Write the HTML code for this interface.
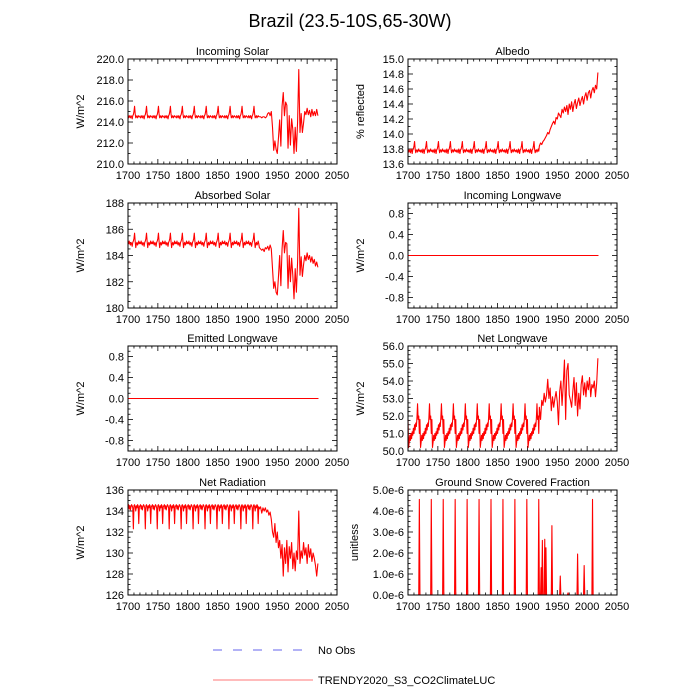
<!DOCTYPE html>
<html><head><meta charset="utf-8"><style>
html,body{margin:0;padding:0;background:#fff}
svg{display:block;font-family:"Liberation Sans",sans-serif}
</style></head><body>
<svg id="c" width="700" height="700" viewBox="0 0 700 700">
<text x="350" y="27" text-anchor="middle" font-size="18">Brazil (23.5-10S,65-30W)</text>
<g>
<line x1="213" y1="650" x2="308" y2="650" stroke="#6666ee" stroke-dasharray="9,11"/>
<text x="318" y="654" font-size="11">No Obs</text>
<line x1="213" y1="680" x2="313" y2="680" stroke="#f77"/>
<text x="318" y="684" font-size="11">TRENDY2020_S3_CO2ClimateLUC</text>
</g>
</svg>
<script>
// 20-year spin-up cycle values (1700-1919, repeating in the data)
const cycIS=[214.5,214.4,214.6,214.5,214.4,214.6,214.5,214.3,214.6,214.7,215.0,215.5,214.8,214.4,214.5,214.6,214.4,214.5,214.6,214.5];
const cycAS=[185.0,184.9,185.1,184.9,184.8,185.0,184.9,184.7,185.0,185.1,185.3,185.7,185.1,184.6,184.9,185.0,184.8,184.9,185.1,184.9];
const cycAL=[13.78,13.76,13.79,13.77,13.75,13.80,13.78,13.74,13.79,13.80,13.84,13.90,13.80,13.75,13.78,13.79,13.76,13.78,13.80,13.77];
const cycNL=[51.8,50.2,50.5,50.9,50.6,51.0,50.7,51.1,50.9,51.3,51.0,51.5,51.2,51.6,51.4,51.9,52.7,51.8,52.0,51.0];
const cycNR=[134.5,134.6,134.2,134.5,134.1,134.4,134.6,134.5,134.3,132.3,134.5,134.6,134.4,134.0,134.5,134.3,134.6,134.5,132.8,134.4];
// post-1920 values every 2 years
const postYears=[1920,1922,1924,1926,1928,1930,1932,1934,1936,1938,1940,1942,1944,1946,1948,1950,1952,1954,1956,1958,1960,1962,1964,1966,1968,1970,1972,1974,1976,1978,1980,1982,1984,1986,1988,1990,1992,1994,1996,1998,2000,2002,2004,2006,2008,2010,2012,2014,2016,2018];
const postIS=[214.5,214.5,214.4,214.5,214.5,214.4,214.5,214.8,214.9,214.6,215.0,213.5,211.3,212.2,211.4,211.0,212.5,214.2,211.7,215.5,216.8,214.6,215.9,215.6,211.5,214.6,211.8,214.3,213.3,211.0,213.5,211.2,214.0,219.0,213.0,214.8,213.0,213.9,215.0,214.7,215.3,214.7,215.1,214.5,215.2,214.6,215.0,214.6,215.2,214.6];
const postAS=[184.6,184.5,184.4,184.5,184.3,184.6,184.5,184.7,184.4,184.8,184.5,183.0,181.5,182.0,181.2,181.0,182.4,184.0,181.7,184.5,185.9,184.2,185.0,184.9,181.5,184.0,182.0,183.8,182.5,180.7,183.0,181.2,183.5,187.6,182.5,183.9,182.4,183.3,184.0,183.6,184.2,183.7,184.0,183.5,183.9,183.4,183.7,183.2,183.5,183.1];
const postAL=[13.84,13.88,13.86,13.90,13.92,13.95,13.98,14.02,14.00,14.06,14.10,14.14,14.17,14.13,14.22,14.20,14.28,14.25,14.22,14.33,14.28,14.36,14.30,14.38,14.26,14.40,14.33,14.43,14.30,14.40,14.46,14.34,14.42,14.48,14.38,14.45,14.50,14.40,14.50,14.55,14.45,14.55,14.58,14.48,14.58,14.62,14.55,14.65,14.60,14.82];
const postNL=[52.5,51.8,52.9,52.6,53.3,52.8,53.2,54.1,53.0,53.6,52.3,53.1,52.5,53.0,53.4,52.8,51.5,53.4,54.0,52.6,53.8,55.2,51.8,54.6,55.0,53.2,52.9,52.5,53.4,54.2,52.6,53.9,52.0,53.3,52.4,53.8,54.3,53.2,53.9,53.1,54.0,53.5,54.2,53.1,53.8,53.6,54.0,53.1,53.9,55.3];
const postNR=[134.2,134.4,133.8,134.3,134.0,134.3,133.9,134.1,133.6,133.9,133.2,132.0,131.5,132.8,131.0,132.0,130.5,131.2,129.5,130.8,127.8,130.5,129.0,131.2,128.2,130.6,129.5,131.0,128.5,130.0,128.3,130.2,129.4,134.0,129.0,130.2,129.5,131.0,129.8,130.5,129.0,130.8,129.6,130.4,129.2,130.0,129.5,128.8,127.8,129.0];
// snow: spike years and values (zero elsewhere)
const snowYears=[1719,1739,1759,1779,1799,1819,1839,1859,1879,1899,1919,1923,1925,1929,1931,1941,1955,1968,1984,1995,2009];
const snowVals=[4.55,4.55,4.55,4.55,4.55,4.55,4.55,4.55,4.55,4.55,4.55,1.3,2.6,2.65,2.25,3.3,0.9,0.1,1.95,1.4,4.55];
const xTicks=[1700,1750,1800,1850,1900,1950,2000,2050];

const NS="http://www.w3.org/2000/svg";
const svg=document.getElementById('c');
function el(tag,attrs,parent){const e=document.createElementNS(NS,tag);for(const k in attrs)e.setAttribute(k,attrs[k]);(parent||svg).appendChild(e);return e;}
function buildSeries(cyc,post){const pts=[];for(let y=1700;y<1920;y++)pts.push([y,cyc[(y-1700)%20]]);for(let i=0;i<postYears.length;i++)pts.push([postYears[i],post[i]]);return pts;}
function snowSeries(){const pts=[];for(let y=1700;y<=2019;y++){const i=snowYears.indexOf(y);pts.push([y,i>=0?snowVals[i]:0]);}return pts;}
function flat(){return [[1700,0],[2019,0]];}

const panels=[
 {name:'incoming-solar',title:'Incoming Solar',x:128,y:59,ylab:'W/m^2',min:210,max:220,ticks:[210,212,214,216,218,220],fmt:v=>v.toFixed(1),minor:1,data:buildSeries(cycIS,postIS)},
 {name:'albedo',title:'Albedo',x:408,y:59,ylab:'% reflected',min:13.6,max:15.0,ticks:[13.6,13.8,14.0,14.2,14.4,14.6,14.8,15.0],fmt:v=>v.toFixed(1),minor:0.1,data:buildSeries(cycAL,postAL)},
 {name:'absorbed-solar',title:'Absorbed Solar',x:128,y:203,ylab:'W/m^2',min:180,max:188,ticks:[180,182,184,186,188],fmt:v=>v.toFixed(0),minor:0.5,data:buildSeries(cycAS,postAS)},
 {name:'incoming-longwave',title:'Incoming Longwave',x:408,y:203,ylab:'W/m^2',min:-1,max:1,ticks:[-0.8,-0.4,0,0.4,0.8],fmt:v=>v.toFixed(1),minor:0.1,data:flat()},
 {name:'emitted-longwave',title:'Emitted Longwave',x:128,y:346,ylab:'W/m^2',min:-1,max:1,ticks:[-0.8,-0.4,0,0.4,0.8],fmt:v=>v.toFixed(1),minor:0.1,data:flat()},
 {name:'net-longwave',title:'Net Longwave',x:408,y:346,ylab:'W/m^2',min:50,max:56,ticks:[50,51,52,53,54,55,56],fmt:v=>v.toFixed(1),minor:0.25,data:buildSeries(cycNL,postNL)},
 {name:'net-radiation',title:'Net Radiation',x:128,y:490,ylab:'W/m^2',min:126,max:136,ticks:[126,128,130,132,134,136],fmt:v=>v.toFixed(0),minor:0.5,data:buildSeries(cycNR,postNR)},
 {name:'ground-snow',title:'Ground Snow Covered Fraction',x:408,y:490,ylab:'unitless',min:0,max:5,ticks:[0,1,2,3,4,5],fmt:v=>v.toFixed(1)+'e-6',minor:0.25,data:snowSeries()}
];
const W=209,H=105;
panels.forEach(p=>{
 const g=el('g',{});
 
 
 const sx=v=>p.x+(v-1700)/350*W, sy=v=>p.y+H-(v-p.min)/(p.max-p.min)*H;
 const t=el('text',{x:p.x+W/2,y:p.y-4,'text-anchor':'middle','font-size':11},g);t.textContent=p.title;
 
 for(let yr=1700;yr<=2050;yr+=10){const X=sx(yr),L=(yr%50===0)?5:2.5;
  el('line',{x1:X,y1:p.y+H,x2:X,y2:p.y+H-L,stroke:'#000','stroke-width':0.8},g);
  el('line',{x1:X,y1:p.y,x2:X,y2:p.y+L,stroke:'#000','stroke-width':0.8},g);}
 xTicks.forEach(v=>{const tt=el('text',{x:sx(v),y:p.y+H+15,'text-anchor':'middle','font-size':11},g);tt.textContent=v;
  });
 const n=Math.round((p.max-p.min)/p.minor);
 for(let i=0;i<=n;i++){const v=p.min+i*p.minor,Y=sy(v);const maj=p.ticks.some(k=>Math.abs(k-v)<1e-6);const L=maj?5:2.5;
  el('line',{x1:p.x,y1:Y,x2:p.x+L,y2:Y,stroke:'#000','stroke-width':0.8},g);
  el('line',{x1:p.x+W,y1:Y,x2:p.x+W-L,y2:Y,stroke:'#000','stroke-width':0.8},g);}
 p.ticks.forEach(v=>{const tt=el('text',{x:p.x-4,y:sy(v)+4,'text-anchor':'end','font-size':11},g);tt.textContent=p.fmt(v);
  });
 const yl=el('text',{x:0,y:0,'text-anchor':'middle','font-size':11,transform:`translate(${p.x-(p.fmt(p.ticks[0]).length>5||p.ylab==='unitless'?50:44)},${p.y+H/2}) rotate(-90)`},g);yl.textContent=p.ylab;
 
 const d=p.data.map((q,i)=>(i?'L':'M')+sx(q[0]).toFixed(2)+','+sy(q[1]).toFixed(2)).join('');
 const pa=el('path',{d:d,fill:'none',stroke:'#f00','stroke-width':1.1,'stroke-linejoin':'round'},g);
 
 const r=el('rect',{x:p.x,y:p.y,width:W,height:H,fill:'none',stroke:'#000','stroke-width':1},g);
 
});
</script>
</body></html>
